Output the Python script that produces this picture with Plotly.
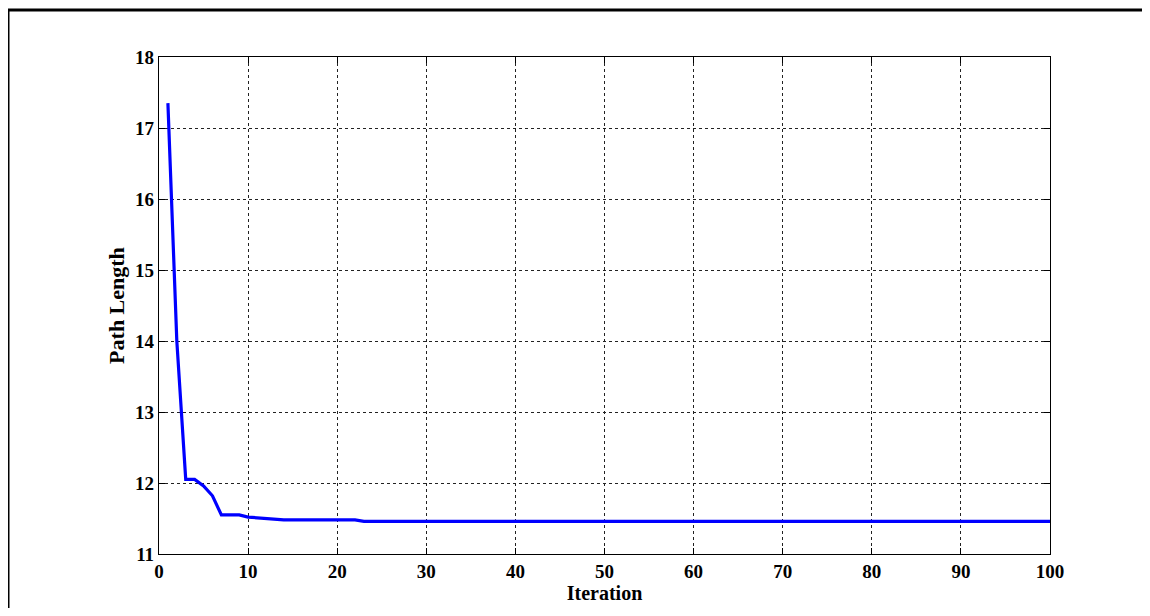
import plotly.graph_objects as go

iterations = list(range(1, 101))
path_length = [
    17.35, 14.0, 12.05, 12.05, 11.96, 11.82, 11.55, 11.55, 11.55, 11.52,
    11.51, 11.50, 11.48, 11.48, 11.48, 11.48, 11.48, 11.48, 11.48, 11.48,
    11.48, 11.48, 11.46, 11.46, 11.46, 11.46, 11.46, 11.46, 11.46, 11.46,
    11.46, 11.46, 11.46, 11.46, 11.46, 11.46, 11.46, 11.46, 11.46, 11.46,
    11.46, 11.46, 11.46, 11.46, 11.46, 11.46, 11.46, 11.46, 11.46, 11.46,
    11.46, 11.46, 11.46, 11.46, 11.46, 11.46, 11.46, 11.46, 11.46, 11.46,
    11.46, 11.46, 11.46, 11.46, 11.46, 11.46, 11.46, 11.46, 11.46, 11.46,
    11.46, 11.46, 11.46, 11.46, 11.46, 11.46, 11.46, 11.46, 11.46, 11.46,
    11.46, 11.46, 11.46, 11.46, 11.46, 11.46, 11.46, 11.46, 11.46, 11.46,
    11.46, 11.46, 11.46, 11.46, 11.46, 11.46, 11.46, 11.46, 11.46, 11.46,
]
x_ticks = [0, 10, 20, 30, 40, 50, 60, 70, 80, 90, 100]
y_ticks = [11, 12, 13, 14, 15, 16, 17, 18]

# page body has an 8px margin; figure is sized to fit inside
W, H = 1134, 600
ml, mr, mt, mb = 151, 92, 49, 54
pw, ph = W - ml - mr, H - mt - mb

fig = go.Figure()
fig.add_trace(go.Scatter(x=iterations, y=path_length, mode="lines",
                         line=dict(color="#0000FF", width=3.2), showlegend=False))

axis_common = dict(
    showline=True, linecolor="black", linewidth=1.2, mirror="allticks",
    ticks="inside", ticklen=6, tickcolor="black",
    showgrid=True, gridcolor="#222222", gridwidth=1, griddash="3px,3px",
    zeroline=False, tickfont=dict(family="Liberation Serif", size=19, color="black", weight="bold"),
)
fig.update_xaxes(range=[0, 100], tickvals=x_ticks,
                 title=dict(text="<b>Iteration</b>",
                            font=dict(family="Liberation Serif", size=20, color="black"),
                            standoff=0), **axis_common)
fig.update_yaxes(range=[11, 18], tickvals=y_ticks,
                 title=dict(text="<b>Path Length</b>",
                            font=dict(family="Liberation Serif", size=22, color="black"),
                            standoff=4), **axis_common)

# outer figure frame (top and left edges visible)
fx0 = (0 - ml) / pw
fy1 = 1 + (mt - 2) / ph
fig.add_shape(type="line", xref="paper", yref="paper", x0=fx0, x1=(W - ml + 20) / pw,
              y0=fy1, y1=fy1, line=dict(color="black", width=3))
fig.add_shape(type="line", xref="paper", yref="paper", x0=fx0, x1=fx0,
              y0=fy1, y1=-(mb + 20) / ph, line=dict(color="black", width=3))

fig.update_layout(
    width=W, height=H,
    margin=dict(l=ml, r=mr, t=mt, b=mb),
    paper_bgcolor="white", plot_bgcolor="white",
)
fig.write_html("out.html")
